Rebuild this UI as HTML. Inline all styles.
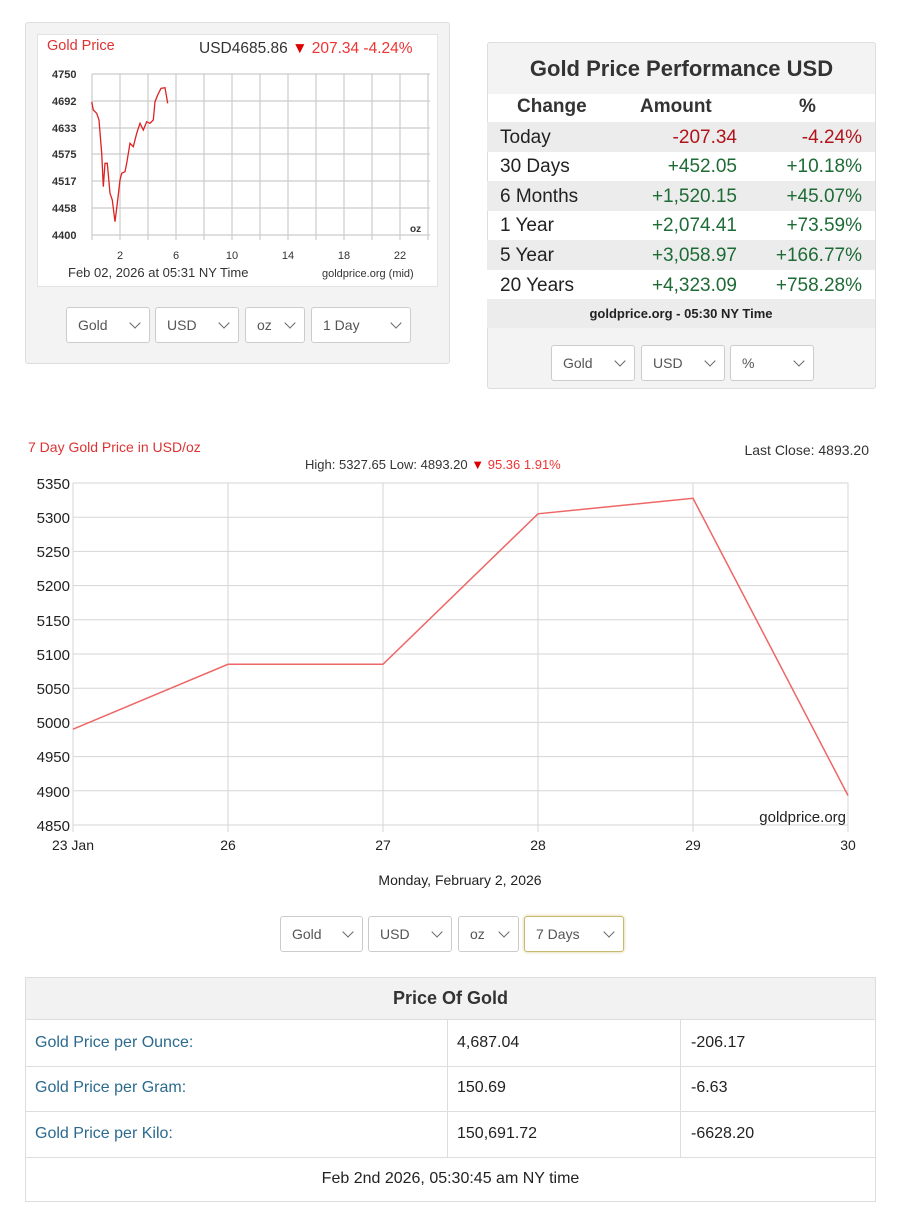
<!DOCTYPE html>
<html><head><meta charset="utf-8"><style>
*{box-sizing:border-box}
body{margin:0;width:897px;height:1224px;background:#fff;font-family:"Liberation Sans","DejaVu Sans",sans-serif;position:relative;overflow:hidden;color:#222}
.abs{position:absolute}
.sel{position:absolute;height:36px;border:1px solid #ccc;border-radius:3px;background:#fff;font-size:14px;color:#555;padding:9px 0 0 11px}
.sel:after{content:"";position:absolute;right:10px;top:11px;width:7px;height:7px;border-right:1px solid #666;border-bottom:1px solid #666;transform:rotate(45deg)}
.row{position:absolute;left:487px;width:388px;height:30px;font-size:19px}
.row span{position:absolute;top:5px}
.g{color:#1e6b35}.r{color:#b0141a}
</style></head><body>

<!-- left panel -->
<div class="abs" style="left:25px;top:22px;width:425px;height:342px;background:#f3f3f3;border:1px solid #ddd;border-radius:3px"></div>
<div class="abs" style="left:37px;top:34px;width:401px;height:253px;background:#fff;border:1px solid #e3e3e3"></div>
<div class="abs" style="left:47px;top:38px;font-size:14.5px;color:#d33">Gold Price</div>
<div class="abs" style="left:199px;top:40px;font-size:15.5px;color:#333">USD4685.86 <span style="color:#d00">▼</span><span style="color:#e33"> 207.34 -4.24%</span></div>
<svg class="abs" style="left:0;top:0" width="450" height="300">
<g stroke="#ccc" stroke-width="1.2" fill="none">
<path d="M92 74H430M92 101H430M92 128H430M92 154H430M92 181H430M92 208H430M92 235H430"/>
<path d="M92 74V240M120 74V240M148 74V240M176 74V240M204 74V240M232 74V240M260 74V240M288 74V240M316 74V240M344 74V240M372 74V240M400 74V240M428 74V240"/>
</g>
<g font-size="11" fill="#333" font-weight="bold">
<text x="52" y="78">4750</text><text x="52" y="105">4692</text><text x="52" y="132">4633</text><text x="52" y="158">4575</text><text x="52" y="185">4517</text><text x="52" y="212">4458</text><text x="52" y="239">4400</text>
<text x="120" y="259" text-anchor="middle" font-weight="normal">2</text><text x="176" y="259" text-anchor="middle" font-weight="normal">6</text><text x="232" y="259" text-anchor="middle" font-weight="normal">10</text><text x="288" y="259" text-anchor="middle" font-weight="normal">14</text><text x="344" y="259" text-anchor="middle" font-weight="normal">18</text><text x="400" y="259" text-anchor="middle" font-weight="normal">22</text>
<text x="410" y="232" font-size="10">oz</text>
</g>
<text x="68" y="277" font-size="13" fill="#333">Feb 02, 2026 at 05:31 NY Time</text>
<text x="322" y="277" font-size="11" fill="#333">goldprice.org (mid)</text>
<polyline fill="none" stroke="#d22" stroke-width="1.3" points="91.7,101.7 93.3,110 96.7,113.3 99,120 101.7,153.3 103.3,186.7 105,163.3 107.3,163.3 110,193.3 112.3,200 115,221.7 117.7,200 120,180 121.7,173.3 125,171.7 126.7,163.3 130,143.3 133.3,146.7 136.7,133.3 140,123.3 143.3,130 146.7,121.7 150,123.3 153.3,120 155,101.7 157.7,95 161,88.3 165,87.7 167.7,103.3"/>
</svg>
<div class="sel" style="left:66px;top:307px;width:84px">Gold</div>
<div class="sel" style="left:155px;top:307px;width:84px">USD</div>
<div class="sel" style="left:245px;top:307px;width:60px">oz</div>
<div class="sel" style="left:311px;top:307px;width:100px">1 Day</div>

<!-- right panel -->
<div class="abs" style="left:487px;top:42px;width:389px;height:347px;background:#f3f3f3;border:1px solid #ddd;border-radius:3px"></div>
<div class="abs" style="left:487px;top:56px;width:389px;text-align:center;font-size:22px;font-weight:bold;color:#333">Gold Price Performance USD</div>
<div class="abs" style="left:488px;top:94px;width:387px;height:205px;background:#fff"></div>
<div class="row" style="top:96px;height:26px;font-weight:bold;color:#333"><span style="left:30px;top:0">Change</span><span style="left:153px;top:0">Amount</span><span style="left:312px;top:0">%</span></div>
<div class="row" style="top:122px;background:#ececec"><span style="left:13px">Today</span><span class="r" style="right:138px">-207.34</span><span class="r" style="right:13px">-4.24%</span></div>
<div class="row" style="top:151px"><span style="left:13px">30 Days</span><span class="g" style="right:138px">+452.05</span><span class="g" style="right:13px">+10.18%</span></div>
<div class="row" style="top:181px;background:#ececec"><span style="left:13px">6 Months</span><span class="g" style="right:138px">+1,520.15</span><span class="g" style="right:13px">+45.07%</span></div>
<div class="row" style="top:210px"><span style="left:13px">1 Year</span><span class="g" style="right:138px">+2,074.41</span><span class="g" style="right:13px">+73.59%</span></div>
<div class="row" style="top:240px;background:#ececec"><span style="left:13px">5 Year</span><span class="g" style="right:138px">+3,058.97</span><span class="g" style="right:13px">+166.77%</span></div>
<div class="row" style="top:270px;background:#fff"><span style="left:13px">20 Years</span><span class="g" style="right:138px">+4,323.09</span><span class="g" style="right:13px">+758.28%</span></div>
<div class="row" style="top:299px;height:29px;background:#ececec;font-size:13px;font-weight:bold;text-align:center;padding-top:7px">goldprice.org - 05:30 NY Time</div>
<div class="sel" style="left:551px;top:345px;width:84px">Gold</div>
<div class="sel" style="left:641px;top:345px;width:84px">USD</div>
<div class="sel" style="left:730px;top:345px;width:84px">%</div>

<!-- main chart -->
<div class="abs" style="left:28px;top:439px;font-size:14px;color:#d33">7 Day Gold Price in USD/oz</div>
<div class="abs" style="right:28px;top:442px;font-size:14px;color:#333">Last Close: 4893.20</div>
<div class="abs" style="left:305px;top:457px;font-size:13px;color:#333">High: 5327.65 Low: 4893.20 <span style="color:#d00">▼</span><span style="color:#e33"> 95.36 1.91%</span></div>
<svg class="abs" style="left:0;top:470px" width="897" height="430">
<g transform="translate(0,-470)">
<g stroke="#d5d5d5" stroke-width="1" fill="none">
<path d="M73 483H848M73 517.2H848M73 551.4H848M73 585.6H848M73 619.8H848M73 654H848M73 688.2H848M73 722.4H848M73 756.6H848M73 790.8H848M73 825H848"/>
<path d="M73 483V832M228 483V832M383 483V832M538 483V832M693 483V832M848 483V832"/>
</g>
<g font-size="15" fill="#222" text-anchor="end">
<text x="70" y="489">5350</text><text x="70" y="523">5300</text><text x="70" y="557">5250</text><text x="70" y="591">5200</text><text x="70" y="626">5150</text><text x="70" y="660">5100</text><text x="70" y="694">5050</text><text x="70" y="728">5000</text><text x="70" y="762">4950</text><text x="70" y="797">4900</text><text x="70" y="831">4850</text>
</g>
<g font-size="14" fill="#222" text-anchor="middle">
<text x="73" y="850">23 Jan</text><text x="228" y="850">26</text><text x="383" y="850">27</text><text x="538" y="850">28</text><text x="693" y="850">29</text><text x="848" y="850">30</text>
<text x="460" y="885">Monday, February 2, 2026</text>
</g>
<text x="846" y="822" font-size="15" fill="#222" text-anchor="end">goldprice.org</text>
<polyline fill="none" stroke="#e66" stroke-width="1.5" points="73,729.2 228,664.3 383,664.3 538,513.8 693,498.3 848,795.5"/>
</g></svg>
<div class="sel" style="left:280px;top:916px;width:83px">Gold</div>
<div class="sel" style="left:368px;top:916px;width:84px">USD</div>
<div class="sel" style="left:458px;top:916px;width:61px">oz</div>
<div class="sel" style="left:524px;top:916px;width:100px;border-color:#c9b872;box-shadow:0 0 3px #d8cc90">7 Days</div>

<!-- bottom table -->
<div class="abs" style="left:25px;top:977px;width:851px;height:225px;border:1px solid #ddd"></div>
<div class="abs" style="left:26px;top:978px;width:849px;height:42px;background:#f2f2f2;border-bottom:1px solid #ddd;text-align:center;font-size:18px;font-weight:bold;padding-top:10px;color:#333">Price Of Gold</div>
<div class="abs" style="left:447px;top:1020px;width:1px;height:137px;background:#ddd"></div>
<div class="abs" style="left:680px;top:1020px;width:1px;height:137px;background:#ddd"></div>
<div class="abs" style="left:26px;top:1066px;width:849px;height:1px;background:#ddd"></div>
<div class="abs" style="left:26px;top:1111px;width:849px;height:1px;background:#ddd"></div>
<div class="abs" style="left:26px;top:1157px;width:849px;height:1px;background:#ddd"></div>
<div class="abs" style="left:35px;top:1034px;font-size:16px;color:#2b6a8e">Gold Price per Ounce:</div>
<div class="abs" style="left:457px;top:1034px;font-size:16px">4,687.04</div>
<div class="abs" style="left:691px;top:1034px;font-size:16px">-206.17</div>
<div class="abs" style="left:35px;top:1079px;font-size:16px;color:#2b6a8e">Gold Price per Gram:</div>
<div class="abs" style="left:457px;top:1079px;font-size:16px">150.69</div>
<div class="abs" style="left:691px;top:1079px;font-size:16px">-6.63</div>
<div class="abs" style="left:35px;top:1125px;font-size:16px;color:#2b6a8e">Gold Price per Kilo:</div>
<div class="abs" style="left:457px;top:1125px;font-size:16px">150,691.72</div>
<div class="abs" style="left:691px;top:1125px;font-size:16px">-6628.20</div>
<div class="abs" style="left:25px;top:1170px;width:851px;text-align:center;font-size:16px">Feb 2nd 2026, 05:30:45 am NY time</div>
</body></html>
